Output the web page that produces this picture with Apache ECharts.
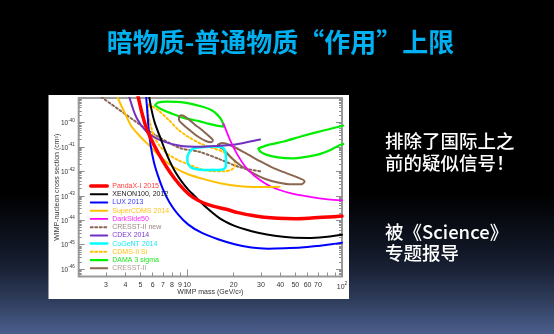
<!DOCTYPE html>
<html>
<head>
<meta charset="utf-8">
<script src="https://cdn.jsdelivr.net/npm/echarts@6/dist/echarts.min.js"></script>
<style>
  html, body { margin: 0; padding: 0; width: 554px; height: 334px; overflow: hidden;
    background: linear-gradient(to bottom, #000 0%, #000 58%, #111726 75%, #1a2237 81%, #2f3d5c 90%, #4b5f8d 100%); }
  #chart { width: 554px; height: 334px; }
</style>
</head>
<body>
<div id="chart"></div>
<script>
// ---- axis ticks and labels ----
const massLabels = [3, 4, 5, 6, 7, 8, 9, 10, 20, 30, 40, 50, 60, 70, 100];
const massMajorTicks = [10, 100];
const massMinorTicks = [3, 4, 5, 6, 7, 8, 9, 20, 30, 40, 50, 60, 70, 80, 90];
const sigmaDecades = [1e-46, 1e-45, 1e-44, 1e-43, 1e-42, 1e-41, 1e-40];

// ---- limits and regions: [WIMP mass (GeV/c^2), cross section (cm^2)] ----
const pandaX2015 = [[4.83,1.2e-39],[5.08,2.95e-40],[5.41,7.2e-41],[5.80,2.4e-41],[6.50,5.8e-42],[7.36,1.55e-42],[8.33,5.0e-43],[9.66,1.67e-43],[10.93,8.6e-44],[12.7,5.2e-44],[14.7,3.8e-44],[17.9,2.8e-44],[21.3,2.05e-44],[26.0,1.6e-44],[31.7,1.32e-44],[38.6,1.2e-44],[49.5,1.16e-44],[63.4,1.23e-44],[81.3,1.35e-44],[100,1.48e-44]];
const xenon100 = [[5.69,1.2e-39],[5.89,3.5e-40],[6.19,9.8e-41],[6.66,2.8e-41],[7.18,7.9e-42],[7.73,2.6e-42],[8.33,1.03e-42],[9.19,4.0e-43],[10.15,1.84e-43],[11.2,9.8e-44],[13.0,3.8e-44],[16.25,1.2e-44],[19.9,6.2e-45],[23.6,4.3e-45],[28.7,3.1e-45],[36.8,2.3e-45],[47.1,1.95e-45],[60.3,1.88e-45],[77.3,2.07e-45],[100,2.57e-45]];
const lux2013 = [[5.45,1.1e-39],[5.55,2.5e-40],[5.66,5.2e-41],[5.83,1.1e-41],[6.12,2.3e-42],[6.50,6.5e-43],[7.00,1.84e-43],[7.73,5.2e-44],[8.75,1.74e-44],[10.15,6.8e-45],[12.4,3.1e-45],[15.85,1.66e-45],[20.3,1.04e-45],[26.0,7.6e-46],[33.3,6.9e-46],[42.7,7.1e-46],[54.7,7.6e-46],[70.0,8.9e-46],[85.3,1.04e-45],[100,1.2e-45]];
const superCDMS2014 = [[3.55,1.1e-39],[3.96,2.5e-40],[4.37,7.2e-41],[4.95,2.8e-41],[5.74,1.09e-41],[6.83,3.6e-42],[8.33,1.4e-42],[10.15,7.6e-43],[13.0,4.7e-43],[16.65,3.2e-43],[21.3,2.5e-43],[27.3,2.3e-43],[33.3,2.3e-43],[39.6,2.35e-43]];
const darkSide50 = [[17.2,8.9e-41],[18.9,2.0e-41],[20.8,5.8e-42],[23.6,1.66e-42],[27.3,6.5e-43],[35.0,2.35e-43],[47.1,1.26e-43],[63.4,8.9e-44],[81.3,7.2e-44],[100,6.5e-44]];
const cresstNew = [[2.8,1.1e-39],[4.51,1.26e-40],[6.22,3.1e-41],[9.01,9.0e-42],[12.1,6.2e-42],[16.3,3.1e-42],[22.0,1.46e-42],[30.3,9.8e-43]];
const cdex2014 = [[4.25,1.05e-39],[4.74,1.48e-40],[5.49,4.2e-41],[6.70,1.9e-41],[9.01,1.12e-41],[12.1,1.02e-41],[15.85,1.1e-41],[19.9,1.23e-41],[24.7,1.58e-41],[29.6,2.0e-41]];
const cogent2014 = [[10.25,5.5e-42],[10.93,8.5e-42],[12.7,9.9e-42],[15.08,1.05e-41],[16.82,9.9e-42],[17.6,6.8e-42],[17.85,3.1e-42],[17.77,1.55e-42],[16.82,1.17e-42],[14.35,1.14e-42],[12.07,1.17e-42],[10.66,1.41e-42],[10.1,2.26e-42],[10.05,3.6e-42],[10.25,5.5e-42]];
const cdmsSi = [[5.66,5.5e-40],[6.50,3.2e-40],[7.54,1.35e-40],[8.75,5.2e-41],[10.15,2.6e-41],[12.1,1.41e-41],[14.35,9.3e-42],[16.65,6.8e-42],[19.1,4.0e-42],[20.5,1.95e-42],[19.5,1.2e-42],[17.5,1.02e-42],[14.7,1.02e-42],[12.4,1.2e-42],[10.45,1.82e-42],[8.75,2.9e-42],[7.54,5.0e-42],[6.66,1.1e-41],[6.12,2.8e-41],[5.77,9.8e-41],[5.60,2.95e-40],[5.66,5.5e-40]];
const damaLow = [[6.22,5.0e-40],[6.50,6.5e-40],[7.39,7.1e-40],[9.66,6.5e-40],[12.1,4.7e-40],[14.35,3.2e-40],[15.85,1.95e-40],[16.82,1.15e-40],[17.2,6.8e-41],[15.85,7.2e-41],[13.66,8.9e-41],[12.1,1.11e-40],[9.66,1.51e-40],[7.92,2.35e-40],[6.83,3.5e-40],[6.22,5.0e-40]];
const damaHigh = [[28.85,8.5e-42],[32.7,1.15e-41],[42.7,1.7e-41],[53.6,2.6e-41],[70.0,4.1e-41],[97.0,6.8e-41],[120,9.8e-41],[120,2.0e-41],[97.0,1.2e-41],[81.3,6.8e-42],[68.6,4.7e-42],[48.5,3.4e-42],[38.6,3.7e-42],[32.7,4.7e-42],[29.9,6.2e-42],[28.85,8.5e-42]];
const cresstLow = [[8.88,1.74e-40],[9.19,1.95e-40],[9.90,1.58e-40],[11.2,8.3e-41],[12.7,4.5e-41],[14.0,2.6e-41],[14.7,1.86e-41],[14.35,1.55e-41],[13.33,1.7e-41],[11.8,2.6e-41],[10.4,4.9e-41],[9.42,8.3e-41],[8.88,1.26e-40],[8.88,1.74e-40]];
const cresstHigh = [[15.85,1.23e-41],[16.82,1.45e-41],[18.9,1.2e-41],[23.6,5.8e-42],[29.6,2.6e-42],[36.8,1.29e-42],[44.0,8.3e-43],[52.0,5.5e-43],[57.4,3.9e-43],[55.2,3.0e-43],[47.1,2.95e-43],[38.6,3.5e-43],[31.7,5.0e-43],[26.8,8.3e-43],[22.4,1.66e-42],[19.3,3.6e-42],[17.2,7.9e-42],[15.85,1.1e-41],[15.85,1.23e-41]];

const legendNames = ['PandaX-I 2015', 'XENON100, 2012', 'LUX 2013', 'SuperCDMS 2014', 'DarkSide50',
  'CRESST-II new', 'CDEX 2014', 'CoGeNT 2014', 'CDMS-II Si', 'DAMA 3 sigma', 'CRESST-II'];

// The log scale rounds very small numbers, so the y axis works in units of 1e-46 cm^2.
const SIGMA_UNIT = 1e-46;
const EXP_OFFSET = -46;
const toUnit = v => v / SIGMA_UNIT;
const inUnits = pts => pts.map(p => [p[0], toUnit(p[1])]);
const yMin = toUnit(5e-47), yMax = toUnit(1e-39);

// ---- styling ----
const palette = {
  'PandaX-I 2015': '#ff0000', 'XENON100, 2012': '#000000', 'LUX 2013': '#0000ff',
  'SuperCDMS 2014': '#ffc000', 'DarkSide50': '#ff00ff', 'CRESST-II new': '#8b6651',
  'CDEX 2014': '#7030c0', 'CoGeNT 2014': '#00ffff', 'CDMS-II Si': '#ffc000',
  'DAMA 3 sigma': '#00ee00', 'CRESST-II': '#8b6651'
};
const legendText = {
  'PandaX-I 2015': '#ff3b3b', 'XENON100, 2012': '#222222', 'LUX 2013': '#3b3bff',
  'SuperCDMS 2014': '#ffc21a', 'DarkSide50': '#ff2bff', 'CRESST-II new': '#9a8880',
  'CDEX 2014': '#7b3cd0', 'CoGeNT 2014': '#19e8f0', 'CDMS-II Si': '#ffc21a',
  'DAMA 3 sigma': '#22e622', 'CRESST-II': '#ab9a92'
};

function curve(name, data, width, type) {
  return {
    type: 'line', name: name, data: inUnits(data), xAxisIndex: 0, yAxisIndex: 0,
    symbol: 'none', smooth: 0.3, clip: true, silent: true,
    lineStyle: { color: palette[name], width: width, type: type || 'solid', cap: 'round', join: 'round' },
    itemStyle: { color: palette[name] }
  };
}

const tickColor = '#8f8f8f';
const labelFont = 'Liberation Sans';

function logAxis(opts) {
  return Object.assign({
    type: 'log', logBase: 10,
    axisLine: { show: false, onZero: false },
    splitLine: { show: false },
    axisLabel: { show: false },
    axisTick: { show: false }
  }, opts);
}

const majorY = sigmaDecades.map(toUnit);
const minorY = [];
for (let e = -1; e <= 6; e++) {
  for (let k = 2; k <= 9; k++) minorY.push(k * Math.pow(10, e));
}

const chart = echarts.init(document.getElementById('chart'), null, { renderer: 'canvas' });

chart.setOption({
  animation: false,
  backgroundColor: 'transparent',
  graphic: [
    { type: 'rect', z: -10, shape: { x: 48.5, y: 95, width: 300.5, height: 204 }, style: { fill: '#ffffff' } },
    { type: 'text', x: 280.5, y: 42.5, style: { text: '暗物质-普通物质“作用”上限', fill: '#00b0f0',
        font: 'bold 26px "Noto Sans CJK SC"', textAlign: 'center', textVerticalAlign: 'middle' } },
    { type: 'text', x: 385, y: 140.7, style: { text: '排除了国际上之', fill: '#ffffff',
        font: '500 18.5px "Noto Sans CJK SC"', textAlign: 'left', textVerticalAlign: 'middle' } },
    { type: 'text', x: 385, y: 162.7, style: { text: '前的疑似信号！', fill: '#ffffff',
        font: '500 18.5px "Noto Sans CJK SC"', textAlign: 'left', textVerticalAlign: 'middle' } },
    { type: 'text', x: 385, y: 231.7, style: { text: '被《Science》', fill: '#ffffff',
        font: '500 18.5px "Noto Sans CJK SC"', textAlign: 'left', textVerticalAlign: 'middle' } },
    { type: 'text', x: 385, y: 253.3, style: { text: '专题报导', fill: '#ffffff',
        font: '500 18.5px "Noto Sans CJK SC"', textAlign: 'left', textVerticalAlign: 'middle' } }
  ],
  grid: {
    left: 78.7, top: 98, width: 263.3, height: 178.5,
    show: true, borderColor: '#9a9a9a', borderWidth: 2, backgroundColor: 'transparent'
  },
  legend: {
    orient: 'vertical', left: 89, top: 182, padding: 0,
    itemWidth: 16.5, itemHeight: 8, itemGap: 0.23,
    selectedMode: false,
    itemStyle: { opacity: 0 },
    lineStyle: { width: 'inherit' },
    textStyle: { fontSize: 7, fontFamily: labelFont, lineHeight: 8 },
    data: legendNames.map(n => ({ name: n, textStyle: { color: legendText[n] } }))
  },
  xAxis: [
    logAxis({
      position: 'bottom', min: 2, max: 100,
      axisTick: { show: true, inside: true, length: 7, customValues: massMajorTicks, lineStyle: { color: tickColor, width: 1 } },
      axisLabel: {
        show: true, customValues: massLabels, margin: 5, fontSize: 7, color: '#333', fontFamily: labelFont,
        formatter: v => (v === 100 ? '{b|10}{s|2}' : String(v)),
        rich: {
          b: { fontSize: 7, color: '#333', fontFamily: labelFont, lineHeight: 9, verticalAlign: 'bottom' },
          s: { fontSize: 4.8, color: '#333', fontFamily: labelFont, lineHeight: 9, verticalAlign: 'top' }
        }
      },
      name: 'WIMP mass (GeV/c²)', nameLocation: 'middle', nameGap: 12.5, nameMoveOverlap: false,
      nameTextStyle: { fontSize: 7, color: '#333', fontFamily: labelFont }
    }),
    logAxis({
      position: 'bottom', min: 2, max: 100,
      axisTick: { show: true, inside: true, length: 4, customValues: massMinorTicks, lineStyle: { color: tickColor, width: 1 } }
    })
  ],
  yAxis: [
    logAxis({
      position: 'left', min: yMin, max: yMax,
      axisTick: { show: true, inside: true, length: 6, customValues: majorY, lineStyle: { color: tickColor, width: 1 } },
      axisLabel: {
        show: true, customValues: majorY, margin: 4, fontSize: 7, color: '#333', fontFamily: labelFont,
        formatter: v => '{b|10}{s|' + (Math.round(Math.log10(v)) + EXP_OFFSET) + '}',
        rich: {
          b: { fontSize: 6.5, color: '#333', fontFamily: labelFont, lineHeight: 9, verticalAlign: 'bottom' },
          s: { fontSize: 4.5, color: '#333', fontFamily: labelFont, lineHeight: 9, verticalAlign: 'top' }
        }
      },
      name: 'WIMP-nucleon cross section (cm²)', nameLocation: 'middle', nameGap: 18.5, nameMoveOverlap: false,
      nameTextStyle: { fontSize: 7, color: '#333', fontFamily: labelFont }
    }),
    logAxis({
      position: 'left', min: yMin, max: yMax,
      axisTick: { show: true, inside: true, length: 3, customValues: minorY, lineStyle: { color: tickColor, width: 1 } }
    }),
    logAxis({
      position: 'right', min: yMin, max: yMax,
      axisTick: { show: true, inside: true, length: 6, customValues: majorY, lineStyle: { color: tickColor, width: 1 } }
    }),
    logAxis({
      position: 'right', min: yMin, max: yMax,
      axisTick: { show: true, inside: true, length: 3, customValues: minorY, lineStyle: { color: tickColor, width: 1 } }
    })
  ],
  series: [
    curve('CRESST-II new', cresstNew, 2, [2, 2.5]),
    curve('CDMS-II Si', cdmsSi, 2, [2, 2.5]),
    curve('DAMA 3 sigma', damaLow, 2.2),
    curve('DAMA 3 sigma', damaHigh, 2.2),
    curve('CRESST-II', cresstLow, 2),
    curve('CRESST-II', cresstHigh, 2),
    curve('CoGeNT 2014', cogent2014, 2.5),
    curve('CDEX 2014', cdex2014, 2),
    curve('DarkSide50', darkSide50, 1.8),
    curve('SuperCDMS 2014', superCDMS2014, 2),
    curve('LUX 2013', lux2013, 2),
    curve('XENON100, 2012', xenon100, 2),
    curve('PandaX-I 2015', pandaX2015, 3.5)
  ]
});
</script>
</body>
</html>
